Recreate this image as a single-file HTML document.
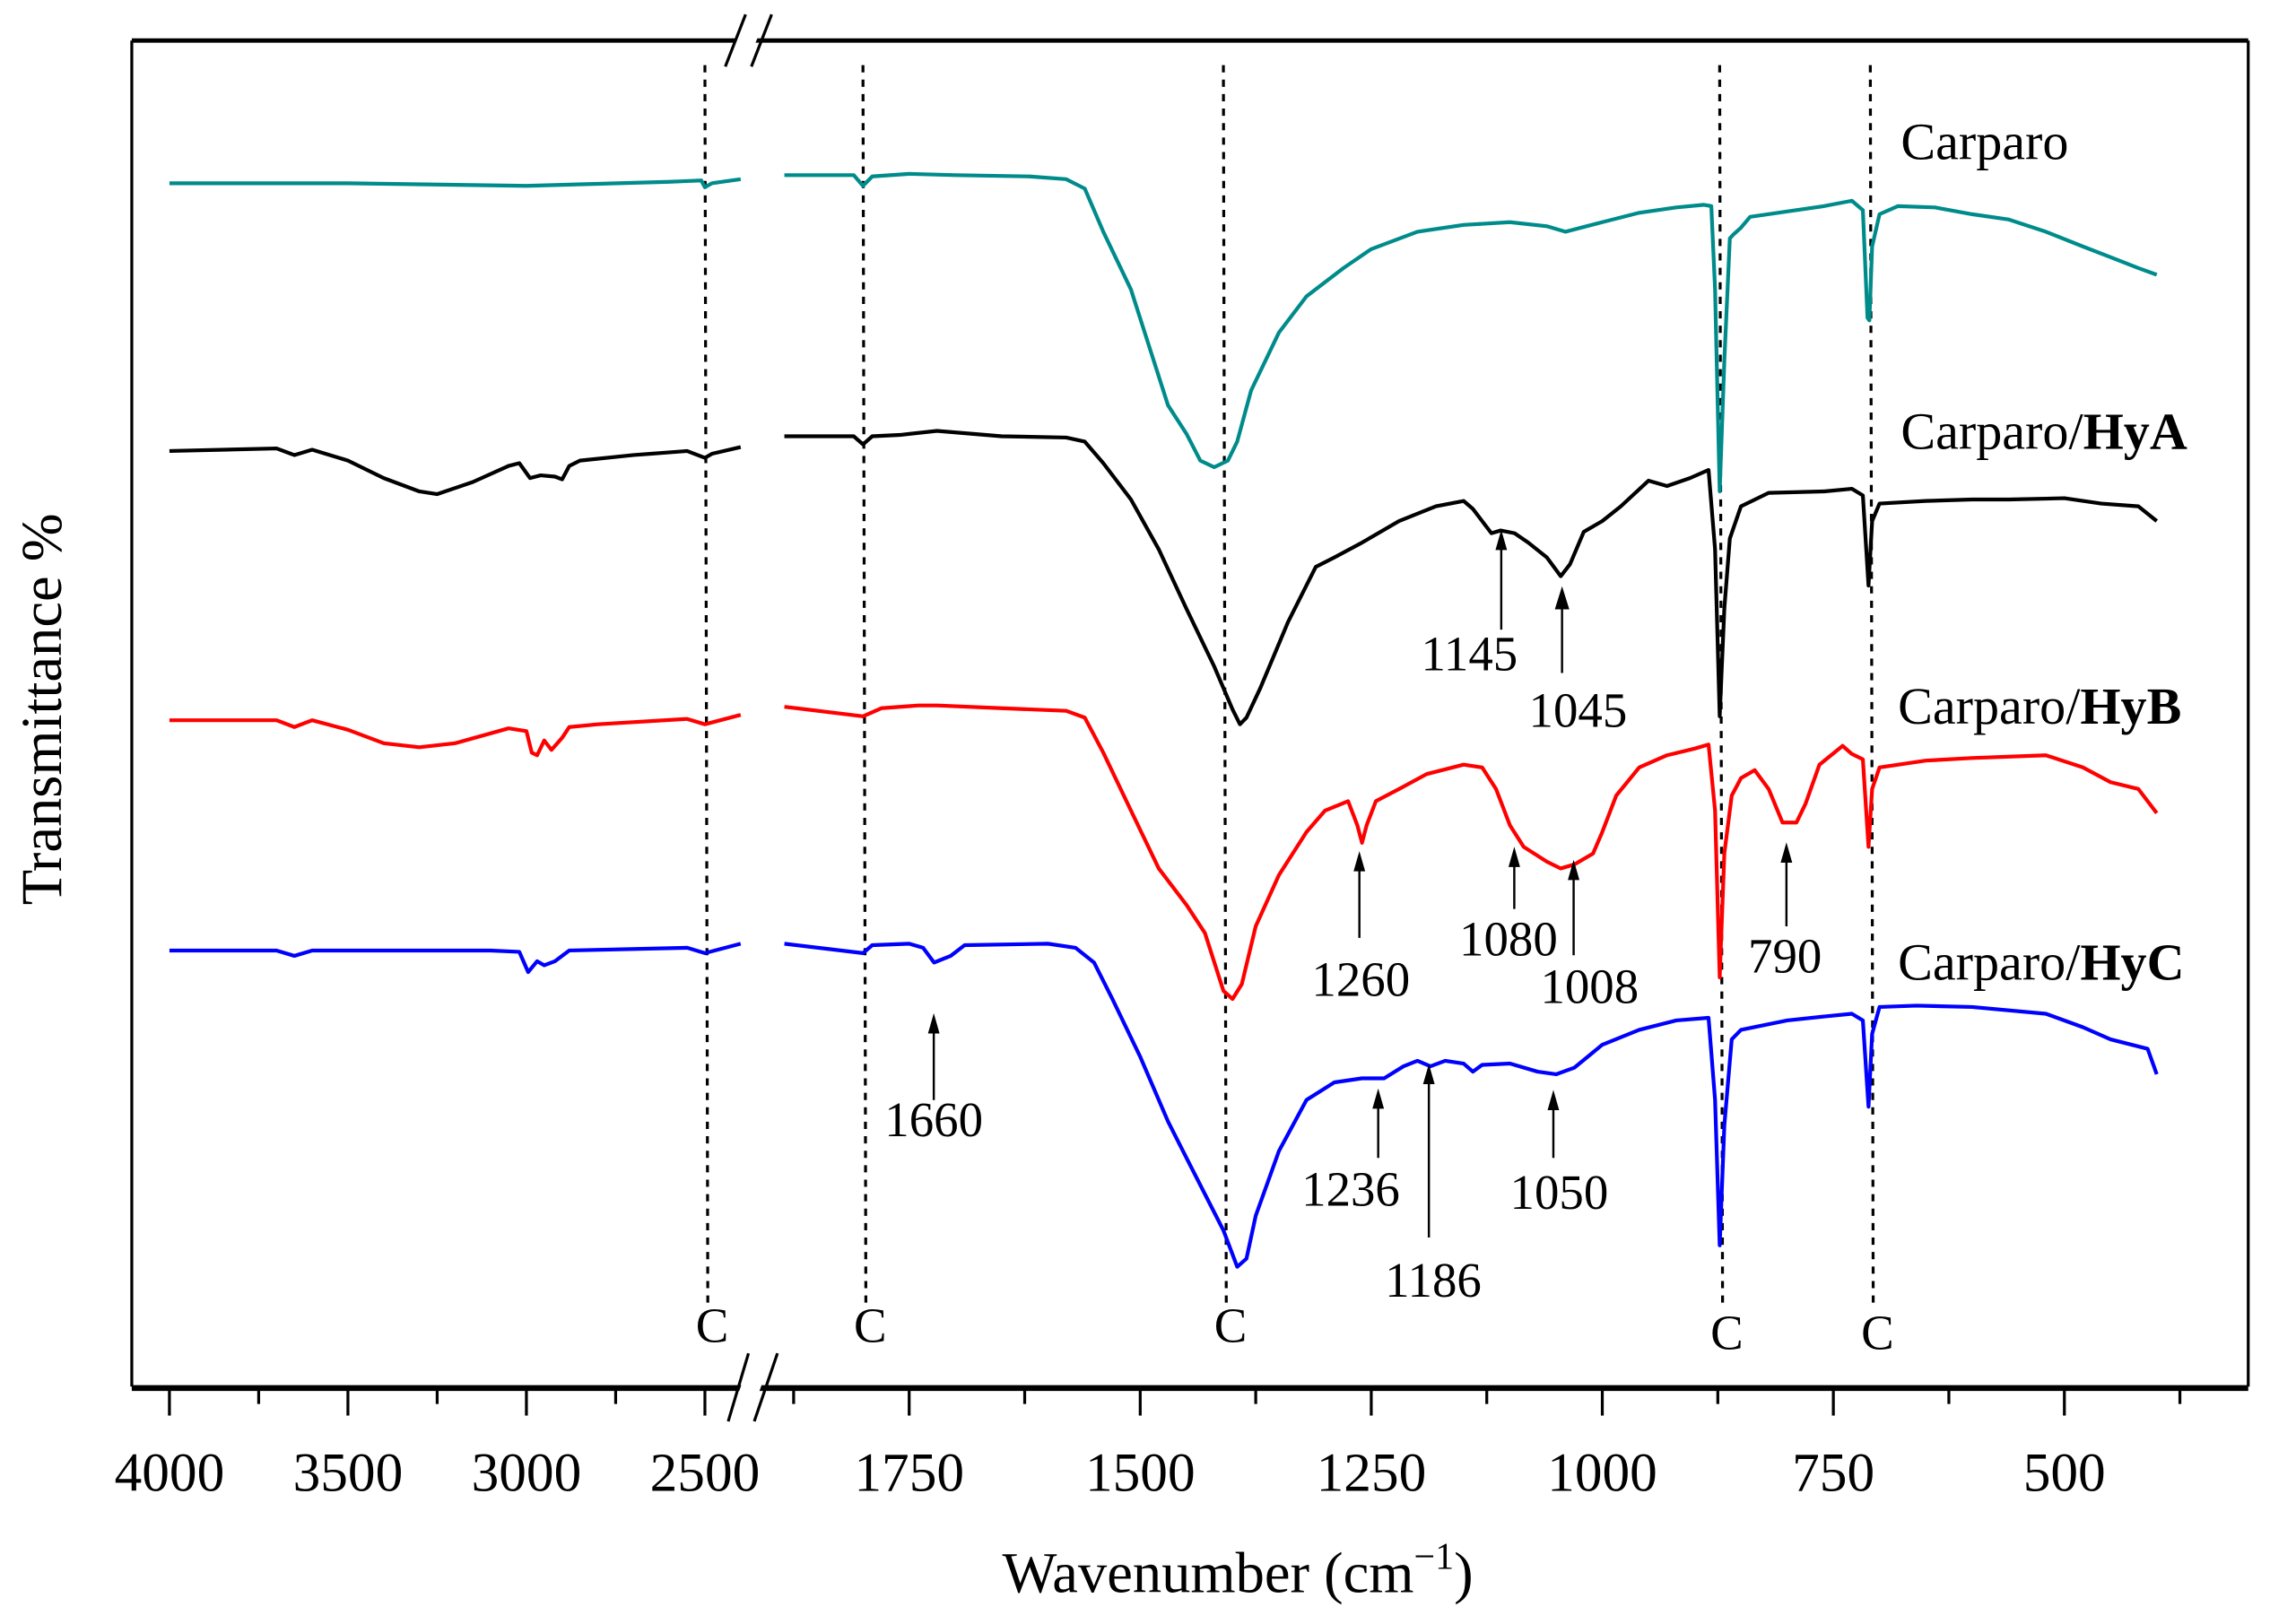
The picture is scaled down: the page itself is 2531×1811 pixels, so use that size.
<!DOCTYPE html>
<html><head><meta charset="utf-8"><style>
html,body{margin:0;padding:0;background:#fff;}
svg{display:block;font-family:"Liberation Serif",serif;}
</style></head><body>
<svg id="chart" width="2531" height="1811" viewBox="0 0 1568 1122" xmlns="http://www.w3.org/2000/svg">
<rect x="0" y="0" width="1568" height="1122" fill="#fff"/>
<g id="frame">
  <line x1="91" y1="28" x2="1553" y2="28" stroke="#000" stroke-width="3"/>
  <line x1="91" y1="28" x2="91" y2="958" stroke="#000" stroke-width="2"/>
  <line x1="1553" y1="28" x2="1553" y2="958" stroke="#000" stroke-width="2"/>
  <line x1="91" y1="959" x2="1553" y2="959" stroke="#000" stroke-width="4"/>
</g>
<g id="ticks"></g>
<g id="clines"></g>
<g id="series"></g>
<g id="annots"></g>
<g>
  <polygon points="516,10 530,10 515,46 501,46" fill="#fff"/>
  <line x1="515" y1="10" x2="501" y2="46" stroke="#000" stroke-width="2"/>
  <line x1="533" y1="10" x2="519" y2="46" stroke="#000" stroke-width="2"/>
</g>
<g>
  <polygon points="520,935 534,935 517,982 503,982" fill="#fff"/>
  <line x1="517" y1="935" x2="503" y2="982" stroke="#000" stroke-width="2"/>
  <line x1="537" y1="935" x2="521" y2="982" stroke="#000" stroke-width="2"/>
</g>
<text x="855" y="1100" font-size="40" text-anchor="middle">Wavenumber (cm<tspan dy="-16" font-size="26">−1</tspan><tspan dy="16">)</tspan></text>
<text transform="translate(42,490) rotate(-90)" font-size="40" text-anchor="middle">Transmittance %</text>
<text x="1313" y="110" font-size="36">Carparo</text>
<text x="1313" y="310" font-size="36">Carparo/<tspan font-weight="bold">HyA</tspan></text>
<text x="1311" y="500" font-size="36">Carparo/<tspan font-weight="bold">HyB</tspan></text>
<text x="1311" y="677" font-size="36">Carparo/<tspan font-weight="bold">HyC</tspan></text>
</svg>
<script>
// axis ticks
const majorTicksLeft = [4000, 3500, 3000, 2500];
const minorTicksLeft = [3750, 3250, 2750];
const majorTicksRight = [1750, 1500, 1250, 1000, 750, 500];
const minorTicksRight = [1875, 1625, 1375, 1125, 875, 625, 375];
const cLinePositions = [2500, 1800, 1410, 873, 710];

// series data: wavenumber and transmittance (arbitrary %)
const carparoLeftW = [4000,3500,3000,2600,2510,2500,2480,2400];
const carparoLeftT = [89.4,89.4,89.2,89.5,89.6,89.1,89.4,89.7];
const carparoRightW = [1885,1810,1800,1790,1750,1700,1620,1580,1560,1540,1510,1490,1470,1450,1435,1420,1405,1395,1380,1350,1320,1280,1250,1200,1150,1100,1060,1040,1000,960,920,890,882,878,873,868,862,858,850,840,800,760,730,718,713,711,708,700,680,640,600,560,520,480,450,420,400];
const carparoRightT = [90.0,90.0,89.2,89.9,90.1,90.0,89.9,89.7,89.0,85.8,81.5,77.2,72.9,70.8,68.8,68.3,68.8,70.2,74.0,78.3,81.0,83.1,84.5,85.8,86.3,86.5,86.2,85.8,86.5,87.2,87.6,87.8,87.7,81.5,66.5,76.2,85.3,85.6,86.1,86.9,87.3,87.7,88.1,87.4,79.4,79.2,84.7,87.1,87.7,87.6,87.1,86.7,85.8,84.7,83.9,83.1,82.6];

const hyaLeftW = [4000,3700,3650,3600,3500,3400,3300,3250,3150,3050,3020,2990,2960,2920,2900,2880,2850,2700,2550,2500,2480,2400];
const hyaLeftT = [69.5,69.7,69.2,69.6,68.8,67.5,66.5,66.3,67.2,68.4,68.6,67.5,67.7,67.6,67.4,68.4,68.8,69.2,69.5,69.0,69.3,69.8];
const hyaRightW = [1885,1810,1800,1790,1760,1720,1650,1580,1560,1540,1510,1480,1450,1420,1400,1392,1385,1370,1340,1310,1290,1260,1220,1180,1150,1140,1120,1110,1095,1080,1060,1045,1035,1020,1000,980,950,930,905,885,878,873,868,862,850,820,760,730,718,712,708,700,650,600,560,500,460,420,400];
const hyaRightT = [70.6,70.6,70.0,70.6,70.7,71.0,70.6,70.5,70.2,68.6,65.9,62.2,57.8,53.5,50.3,49.2,49.7,51.9,56.8,60.9,61.6,62.7,64.3,65.4,65.8,65.2,63.4,63.6,63.4,62.7,61.6,60.2,61.1,63.5,64.3,65.4,67.3,66.9,67.5,68.1,62.2,49.8,57.8,63.0,65.4,66.4,66.5,66.7,66.2,59.5,64.3,65.6,65.8,65.9,65.9,66.0,65.6,65.4,64.3];

const hybLeftW = [4000,3700,3650,3600,3500,3400,3300,3200,3050,3000,2985,2970,2950,2930,2900,2880,2800,2550,2500,2400];
const hybLeftT = [49.5,49.5,49.0,49.5,48.8,47.8,47.5,47.8,48.9,48.7,47.1,46.9,48.0,47.3,48.2,49.0,49.2,49.6,49.2,49.9];
const hybRightW = [1885,1800,1780,1740,1720,1650,1580,1560,1540,1510,1480,1450,1430,1410,1400,1390,1375,1350,1320,1300,1275,1265,1260,1255,1245,1220,1190,1150,1130,1115,1100,1085,1060,1045,1030,1010,1000,985,960,930,900,885,878,873,868,860,850,835,820,805,790,780,765,740,730,718,712,708,700,650,600,520,480,450,420,400];
const hybRightT = [50.5,49.8,50.4,50.6,50.6,50.4,50.2,49.7,47.1,42.8,38.5,35.8,33.7,29.4,28.8,29.9,34.2,38.0,41.2,42.8,43.5,41.7,40.4,41.7,43.5,44.4,45.5,46.2,46.0,44.4,41.7,40.1,39.0,38.5,38.8,39.6,41.2,43.9,46.0,46.9,47.4,47.7,42.8,30.4,39.6,43.9,45.2,45.8,44.4,41.9,41.9,43.3,46.2,47.6,47.0,46.6,40.1,44.4,46.0,46.5,46.7,46.9,46.0,44.9,44.4,42.6];

const hycLeftW = [4000,3700,3650,3600,3100,3020,2995,2970,2950,2920,2880,2550,2500,2400];
const hycLeftT = [32.4,32.4,32.0,32.4,32.4,32.3,30.8,31.6,31.3,31.6,32.4,32.6,32.2,32.9];
const hycRightW = [1885,1800,1790,1750,1735,1723,1705,1690,1600,1570,1550,1530,1500,1470,1450,1430,1410,1395,1385,1375,1350,1320,1290,1260,1236,1215,1200,1186,1170,1150,1140,1130,1100,1070,1050,1030,1000,960,920,885,878,873,868,860,850,800,760,730,718,712,708,700,660,600,520,480,450,410,400];
const hycRightT = [32.9,32.2,32.8,32.9,32.6,31.5,32.0,32.8,32.9,32.6,31.5,28.8,24.5,19.7,17.0,14.3,11.6,8.9,9.5,12.7,17.5,21.3,22.6,22.9,22.9,23.8,24.2,23.8,24.2,24.0,23.4,23.9,24.0,23.4,23.2,23.7,25.4,26.5,27.2,27.4,21.3,10.5,19.4,25.8,26.5,27.2,27.5,27.7,27.2,20.8,26.2,28.2,28.3,28.2,27.7,26.7,25.8,25.1,23.2];

const NS = "http://www.w3.org/2000/svg";
function xLeft(w){ return 117 + (4000 - w) * 0.2466; }
function xRight(w){ return 628 + (1750 - w) * 0.6384; }
function yScale(t){ return 958 - t * 9.3; }

const ticks = document.getElementById('ticks');
function tick(x, len){
  const l = document.createElementNS(NS,'line');
  
  
  l.setAttribute('x1',x); l.setAttribute('x2',x);
  l.setAttribute('y1',960); l.setAttribute('y2',960+len);
  l.setAttribute('stroke','#000'); l.setAttribute('stroke-width','2');
  ticks.appendChild(l);
}
function tickLabel(x, s){
  const t = document.createElementNS(NS,'text');
  
  
  t.setAttribute('x',x); t.setAttribute('y',1030);
  t.setAttribute('font-size','38'); t.setAttribute('text-anchor','middle');
  t.textContent = s;
  ticks.appendChild(t);
}
majorTicksLeft.forEach(w=>{ tick(xLeft(w),18); tickLabel(xLeft(w), String(w)); });
minorTicksLeft.forEach(w=>tick(xLeft(w),10));
majorTicksRight.forEach(w=>{ tick(xRight(w),18); tickLabel(xRight(w), String(w)); });
minorTicksRight.forEach(w=>tick(xRight(w),10));

const cl = document.getElementById('clines');
cLinePositions.forEach((w,i)=>{
  const x = i===0 ? xLeft(w) : xRight(w);
  const l = document.createElementNS(NS,'line');
  
  
  l.setAttribute('x1',x); l.setAttribute('x2',x+2);
  l.setAttribute('y1',45); l.setAttribute('y2',900);
  l.setAttribute('stroke','#000'); l.setAttribute('stroke-width','2');
  l.setAttribute('stroke-dasharray','5 5');
  cl.appendChild(l);
  const t = document.createElementNS(NS,'text');
  
  
  t.setAttribute('x',x+5); t.setAttribute('y',i>=3?932:927);
  t.setAttribute('font-size','34'); t.setAttribute('text-anchor','middle');
  t.textContent = 'C';
  cl.appendChild(t);
});

const sg = document.getElementById('series');
function drawSeries(ws, ts, xf, color, name){
  const p = document.createElementNS(NS,'polyline');
  
  
  p.setAttribute('points', ws.map((w,i)=>xf(w).toFixed(1)+','+yScale(ts[i]).toFixed(1)).join(' '));
  p.setAttribute('fill','none'); p.setAttribute('stroke',color);
  p.setAttribute('stroke-width','2.6'); p.setAttribute('stroke-linejoin','round');
  sg.appendChild(p);
}
drawSeries(carparoLeftW, carparoLeftT, xLeft, '#008b8b', 'carparo-line-left');
drawSeries(carparoRightW, carparoRightT, xRight, '#008b8b', 'carparo-line-right');
drawSeries(hyaLeftW, hyaLeftT, xLeft, '#000', 'hya-line-left');
drawSeries(hyaRightW, hyaRightT, xRight, '#000', 'hya-line-right');
drawSeries(hybLeftW, hybLeftT, xLeft, '#ff0000', 'hyb-line-left');
drawSeries(hybRightW, hybRightT, xRight, '#ff0000', 'hyb-line-right');
drawSeries(hycLeftW, hycLeftT, xLeft, '#0000ff', 'hyc-line-left');
drawSeries(hycRightW, hycRightT, xRight, '#0000ff', 'hyc-line-right');

// annotations
const annLabels = ['1660','1145','1045','1260','1080','1008','790','1236','1186','1050'];
const annX = [645,1037,1079,939,1046,1087,1234,952,987,1073];
const annTip = [700,366,405,588,585,594,582,752,735,753];
const annTail = [760,435,465,648,628,660,640,800,855,800];
const annLX = [645,1015,1090,940,1042,1098,1233,933,990,1077];
const annLY = [785,463,502,688,660,693,672,833,896,835];
const ag = document.getElementById('annots');
annLabels.forEach((s,i)=>{
  const x = annX[i], big = s==='1045';
  const l = document.createElementNS(NS,'line');
  
  
  l.setAttribute('x1',x); l.setAttribute('x2',x);
  l.setAttribute('y1',annTip[i]+6); l.setAttribute('y2',annTail[i]);
  l.setAttribute('stroke','#000'); l.setAttribute('stroke-width','1.5');
  ag.appendChild(l);
  const h = document.createElementNS(NS,'polygon');
  
  
  const hw = big?5:4, hh = big?16:14;
  h.setAttribute('points', x+','+annTip[i]+' '+(x-hw)+','+(annTip[i]+hh)+' '+(x+hw)+','+(annTip[i]+hh));
  h.setAttribute('fill','#000');
  ag.appendChild(h);
  const t = document.createElementNS(NS,'text');
  
  
  t.setAttribute('x',annLX[i]); t.setAttribute('y',annLY[i]);
  t.setAttribute('font-size','34'); t.setAttribute('text-anchor','middle');
  t.textContent = s;
  ag.appendChild(t);
});
</script>
</body></html>
